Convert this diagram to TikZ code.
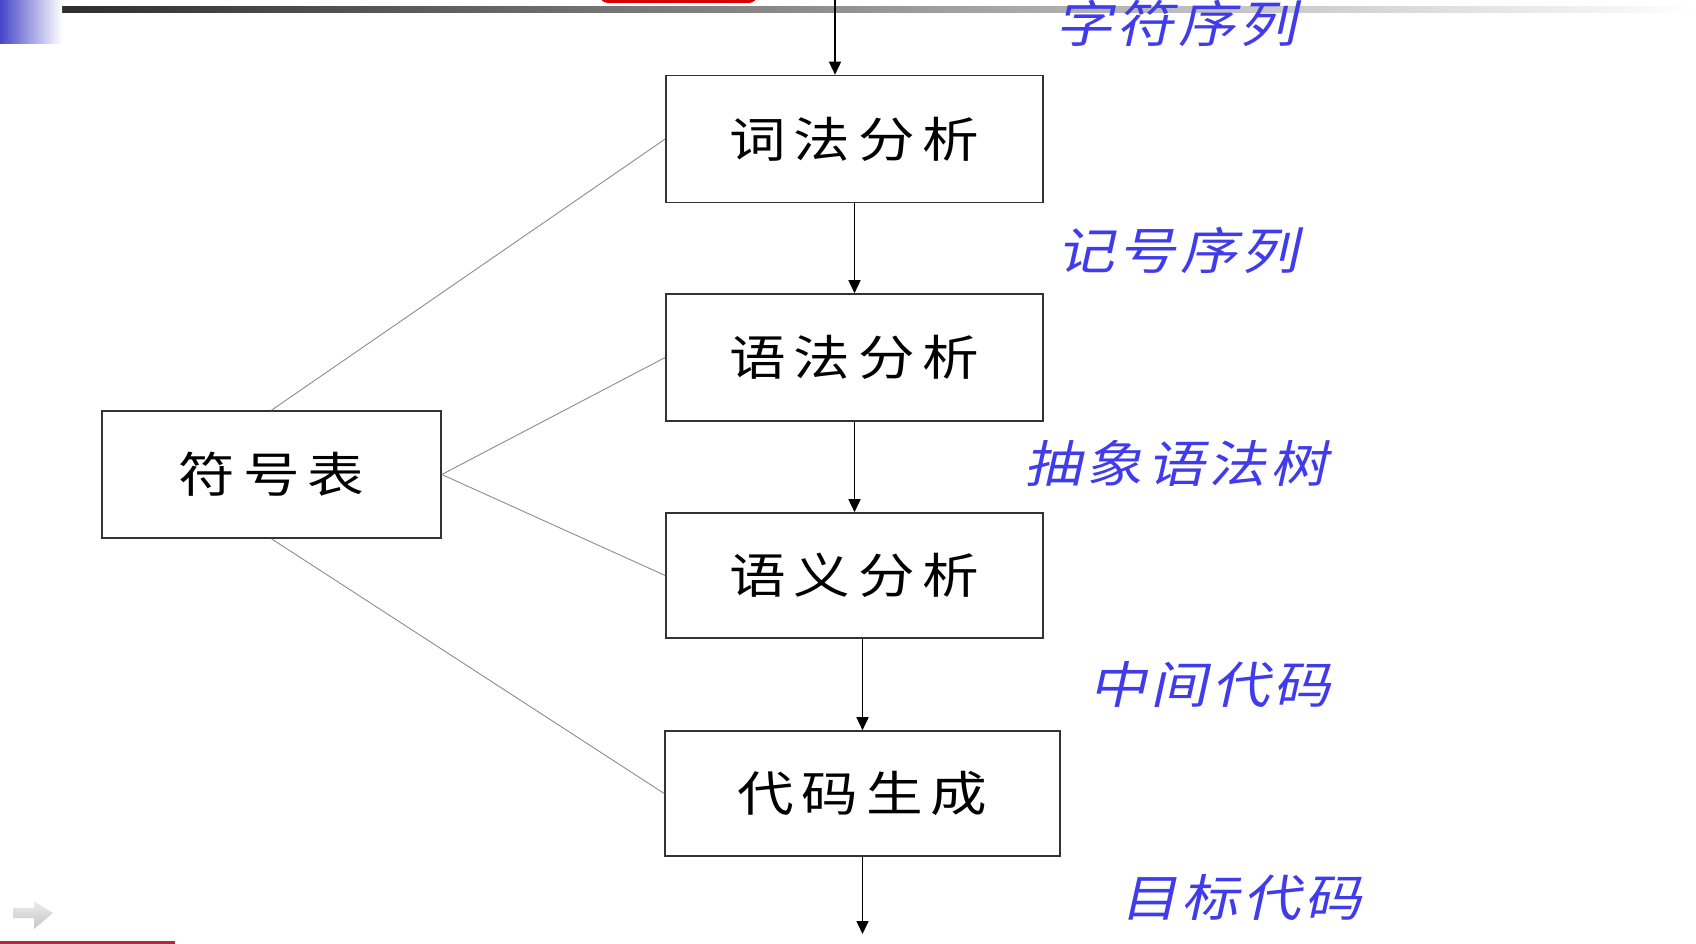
\documentclass[tikz,border=0pt]{standalone}
\usepackage{fontspec}
\usetikzlibrary{arrows.meta}
\newfontfamily\cjkspaced[LetterSpace=16,FakeStretch=1.18]{Noto Sans CJK SC}
\newfontfamily\cjkslant[FakeSlant=0.22,FakeStretch=1.15,LetterSpace=8]{Noto Sans CJK SC}
\definecolor{lblblue}{RGB}{64,60,235}
\definecolor{barred}{RGB}{180,40,60}
\definecolor{tabblue}{RGB}{70,70,200}

\begin{document}
\begin{tikzpicture}[x=1pt,y=-1pt,
  stage/.style={draw=black!80, line width=1.6pt, fill=white, inner sep=0pt,
    font=\cjkspaced\fontsize{48}{52}\selectfont},
  flow/.style={line width=1.6pt, -{Triangle[length=13pt,width=12pt]}},
  link/.style={draw=black!45, line width=0.9pt},
  datalbl/.style={text=lblblue, inner sep=0pt, font=\cjkslant\fontsize{50}{54}\selectfont}
]
\useasboundingbox (0,0) rectangle (1696,944);

% slide decorations
\shade[left color=black!85, right color=white] (0,7) rectangle (1696,13);
\shade[left color=tabblue, right color=white] (0,0) rectangle (62,44);
\fill[red!85!black, rounded corners=8pt] (600,-25) rectangle (757,3);
\fill[barred] (0,941) rectangle (175,944);
\shade[top color=gray!15, bottom color=gray!45]
  (13,908) -- (34,908) -- (34,901) -- (53,913) -- (34,929) -- (34,918) -- (13,918) -- cycle;

% compiler phases
\node[stage, minimum width=377pt, minimum height=127pt] (lex) at (854.5,139) {词法分析};
\node[stage, minimum width=377pt, minimum height=127pt] (syn) at (854.5,357.5) {语法分析};
\node[stage, minimum width=377pt, minimum height=125pt] (sem) at (854.5,575.5) {语义分析};
\node[stage, minimum width=395pt, minimum height=125pt] (gen) at (862.5,793.5) {代码生成};
\node[stage, minimum width=339pt, minimum height=127pt] (sym) at (271.5,474.5) {符号表};

% data passed between phases
\node[datalbl] (l0) at (1176,23) {字符序列};
\node[datalbl] (l1) at (1178,250) {记号序列};
\node[datalbl] (l2) at (1176,463) {抽象语法树};
\node[datalbl] (l3) at (1210,685) {中间代码};
\node[datalbl] (l4) at (1241,898) {目标代码};

% main flow
\coordinate (src) at (835,-4);
\coordinate (sink) at (862.5,934);
\draw[flow] (src) -- (src |- lex.north);
\draw[flow] (lex.south) -- (syn.north);
\draw[flow] (syn.south) -- (sem.north);
\draw[flow] (sem.south -| gen.north) -- (gen.north);
\draw[flow] (gen.south) -- (sink);

% symbol table links
\draw[link] (sym.north) -- (lex.west);
\draw[link] (sym.east) -- (syn.west);
\draw[link] (sym.east) -- (sem.west);
\draw[link] (sym.south) -- (gen.west);
\end{tikzpicture}
\end{document}
